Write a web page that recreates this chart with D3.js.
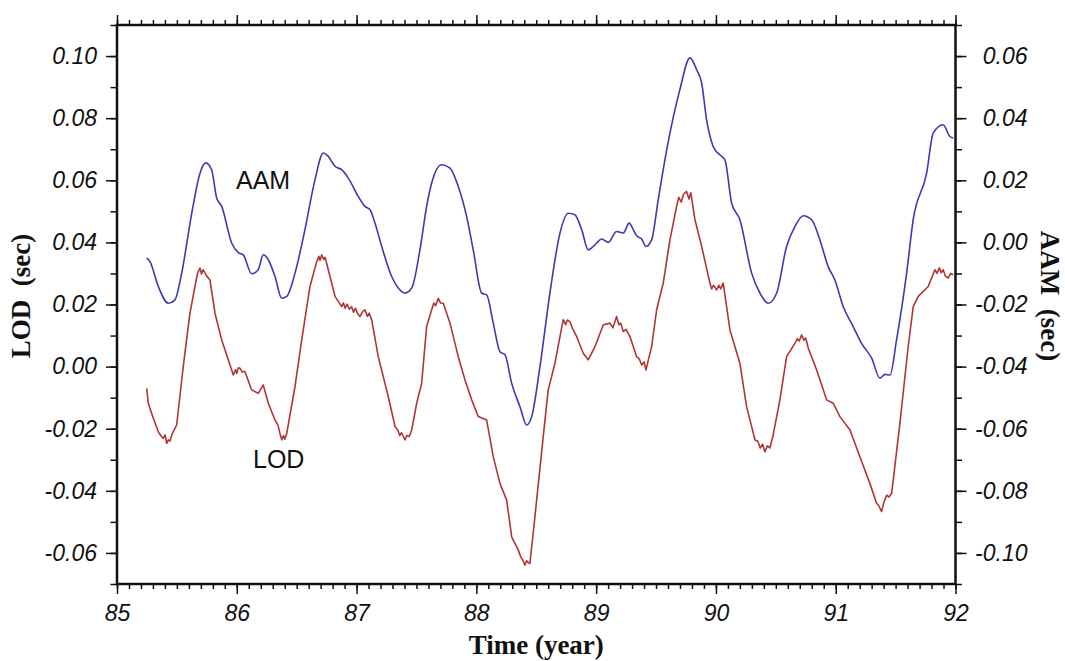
<!DOCTYPE html>
<html>
<head>
<meta charset="utf-8">
<script src="https://cdn.jsdelivr.net/npm/d3@7"></script>
<style>
  body { margin: 0; background: #fff; }
  svg { display: block; }
  .tick text { font-family: "Liberation Sans", Arial, sans-serif; font-style: italic; font-size: 23px; fill: #111; }
  .title { font-family: "Liberation Serif", "Times New Roman", serif; font-weight: bold; font-size: 27px; fill: #111; white-space: pre; }
  .label { font-family: "Liberation Sans", Arial, sans-serif; font-size: 25px; fill: #111; }
</style>
</head>
<body>
<svg id="chart" width="1065" height="661"></svg>
<script>
// AAM (right axis, sec)
const aamYears = [85.248, 85.275, 85.345, 85.428, 85.484, 85.540, 85.624, 85.693, 85.740, 85.790,
    85.832, 85.874, 85.957, 86.013, 86.054, 86.124, 86.179, 86.221, 86.263, 86.319,
    86.375, 86.417, 86.486, 86.569, 86.653, 86.722, 86.764, 86.820, 86.876, 86.931,
    87.014, 87.070, 87.112, 87.154, 87.210, 87.293, 87.348, 87.404, 87.460, 87.529,
    87.585, 87.627, 87.710, 87.780, 87.849, 87.919, 87.974, 88.044, 88.086, 88.141,
    88.197, 88.239, 88.295, 88.364, 88.420, 88.462, 88.531, 88.614, 88.698, 88.767,
    88.823, 88.879, 88.934, 88.990, 89.046, 89.101, 89.171, 89.226, 89.276, 89.310,
    89.338, 89.380, 89.416, 89.463, 89.518, 89.589, 89.699, 89.783, 89.839, 89.881,
    89.922, 89.977, 90.033, 90.075, 90.131, 90.200, 90.298, 90.367, 90.437, 90.507,
    90.590, 90.659, 90.729, 90.799, 90.868, 90.937, 90.993, 91.063, 91.146, 91.216,
    91.300, 91.369, 91.411, 91.453, 91.508, 91.592, 91.647, 91.759, 91.814, 91.897,
    91.953, 91.981];
const aamValues = [-0.0051, -0.0062, -0.0142, -0.0196, -0.0185, -0.0099, 0.0094, 0.0223, 0.0256, 0.0234,
    0.0143, 0.0116, -0.0002, -0.0033, -0.0040, -0.0101, -0.0088, -0.0040, -0.0056, -0.0110,
    -0.0180, -0.0174, -0.0099, 0.0041, 0.0202, 0.0288, 0.0277, 0.0245, 0.0234, 0.0207,
    0.0148, 0.0116, 0.0105, 0.0062, -0.0013, -0.0110, -0.0147, -0.0163, -0.0147, -0.0024,
    0.0116, 0.0191, 0.0250, 0.0239, 0.0180, 0.0083, -0.0024, -0.0163, -0.0169, -0.0260,
    -0.0352, -0.0362, -0.0454, -0.0529, -0.0588, -0.0561, -0.0400, -0.0163, 0.0030, 0.0094,
    0.0089, 0.0041, -0.0024, -0.0008, 0.0011, 0.0000, 0.0035, 0.0030, 0.0062, 0.0041,
    0.0021, 0.0011, -0.0013, 0.0008, 0.0137, 0.0298, 0.0492, 0.0594, 0.0556, 0.0513,
    0.0395, 0.0309, 0.0282, 0.0266, 0.0127, 0.0073, -0.0099, -0.0163, -0.0196, -0.0163,
    -0.0013, 0.0051, 0.0086, 0.0073, 0.0008, -0.0078, -0.0121, -0.0207, -0.0271, -0.0325,
    -0.0373, -0.0437, -0.0425, -0.0427, -0.0314, -0.0099, 0.0073, 0.0223, 0.0352, 0.0379,
    0.0341, 0.0336];

// LOD (left axis, sec) as [year, value]
const lodPoints = [
    [85.248, -0.0070], [85.261, -0.0118], [85.303, -0.0166], [85.345, -0.0210], [85.365, -0.0222],
    [85.386, -0.0231], [85.401, -0.0220], [85.415, -0.0247], [85.428, -0.0236], [85.442, -0.0240],
    [85.457, -0.0220], [85.475, -0.0205], [85.498, -0.0188], [85.553, 0.0000], [85.609, 0.0172],
    [85.651, 0.0258], [85.672, 0.0300], [85.693, 0.0317], [85.705, 0.0298], [85.718, 0.0312],
    [85.735, 0.0301], [85.752, 0.0290], [85.776, 0.0279], [85.818, 0.0172], [85.874, 0.0086],
    [85.929, 0.0022], [85.971, -0.0027], [85.990, -0.0010], [86.000, -0.0022], [86.013, -0.0004],
    [86.027, -0.0005], [86.045, -0.0017], [86.068, -0.0016], [86.124, -0.0075], [86.179, -0.0086],
    [86.221, -0.0059], [86.263, -0.0118], [86.319, -0.0172], [86.345, -0.0190], [86.360, -0.0215],
    [86.375, -0.0236], [86.390, -0.0222], [86.400, -0.0234], [86.417, -0.0215], [86.486, -0.0064],
    [86.542, 0.0086], [86.611, 0.0258], [86.667, 0.0338], [86.685, 0.0355], [86.695, 0.0342],
    [86.709, 0.0360], [86.725, 0.0345], [86.737, 0.0352], [86.750, 0.0333], [86.820, 0.0226],
    [86.876, 0.0193], [86.890, 0.0205], [86.905, 0.0188], [86.920, 0.0201], [86.940, 0.0185],
    [86.959, 0.0193], [86.975, 0.0175], [86.990, 0.0188], [87.010, 0.0170], [87.028, 0.0161],
    [87.050, 0.0176], [87.070, 0.0183], [87.090, 0.0162], [87.105, 0.0172], [87.126, 0.0151],
    [87.181, 0.0032], [87.265, -0.0097], [87.321, -0.0193], [87.345, -0.0205], [87.360, -0.0222],
    [87.375, -0.0213], [87.404, -0.0236], [87.420, -0.0222], [87.440, -0.0225], [87.460, -0.0204],
    [87.502, -0.0118], [87.543, -0.0054], [87.585, 0.0129], [87.627, 0.0183], [87.645, 0.0205],
    [87.660, 0.0196], [87.682, 0.0220], [87.700, 0.0205], [87.724, 0.0204], [87.780, 0.0140],
    [87.849, 0.0032], [87.905, -0.0043], [87.961, -0.0107], [88.016, -0.0161], [88.086, -0.0172],
    [88.141, -0.0290], [88.197, -0.0376], [88.253, -0.0430], [88.295, -0.0548], [88.350, -0.0591],
    [88.370, -0.0612], [88.390, -0.0625], [88.406, -0.0639], [88.420, -0.0625], [88.435, -0.0632],
    [88.447, -0.0634], [88.489, -0.0483], [88.558, -0.0226], [88.600, -0.0075], [88.656, 0.0011],
    [88.725, 0.0151], [88.745, 0.0135], [88.760, 0.0150], [88.781, 0.0145], [88.800, 0.0125],
    [88.837, 0.0097], [88.892, 0.0043], [88.934, 0.0022], [88.990, 0.0064], [89.059, 0.0134],
    [89.115, 0.0140], [89.140, 0.0125], [89.171, 0.0161], [89.190, 0.0135], [89.205, 0.0140],
    [89.226, 0.0113], [89.250, 0.0120], [89.282, 0.0097], [89.338, 0.0032], [89.360, 0.0025],
    [89.380, 0.0005], [89.400, 0.0015], [89.416, -0.0011], [89.435, 0.0020], [89.463, 0.0064],
    [89.505, 0.0183], [89.560, 0.0269], [89.616, 0.0408], [89.672, 0.0516], [89.690, 0.0545],
    [89.710, 0.0530], [89.730, 0.0555], [89.755, 0.0564], [89.775, 0.0540], [89.790, 0.0560],
    [89.825, 0.0473], [89.881, 0.0387], [89.950, 0.0269], [89.965, 0.0250], [89.980, 0.0262],
    [90.006, 0.0247], [90.025, 0.0262], [90.040, 0.0250], [90.061, 0.0269], [90.117, 0.0118],
    [90.200, 0.0011], [90.256, -0.0129], [90.326, -0.0236], [90.350, -0.0240], [90.370, -0.0262],
    [90.390, -0.0250], [90.409, -0.0274], [90.430, -0.0255], [90.450, -0.0262], [90.478, -0.0220],
    [90.534, -0.0107], [90.590, 0.0032], [90.659, 0.0075], [90.680, 0.0090], [90.695, 0.0082],
    [90.715, 0.0102], [90.735, 0.0085], [90.750, 0.0092], [90.771, 0.0059], [90.841, -0.0011],
    [90.924, -0.0107], [90.979, -0.0118], [91.035, -0.0161], [91.119, -0.0204], [91.202, -0.0290],
    [91.285, -0.0376], [91.341, -0.0440], [91.360, -0.0448], [91.383, -0.0467], [91.400, -0.0440],
    [91.425, -0.0414], [91.445, -0.0420], [91.467, -0.0408], [91.536, -0.0182], [91.605, 0.0064],
    [91.647, 0.0193], [91.689, 0.0226], [91.772, 0.0258], [91.828, 0.0312], [91.845, 0.0300],
    [91.865, 0.0318], [91.880, 0.0302], [91.897, 0.0312], [91.915, 0.0292], [91.939, 0.0285],
    [91.960, 0.0300], [91.981, 0.0296]
];

const yearTicks = [85, 86, 87, 88, 89, 90, 91, 92];
const lodTicks = [-0.06, -0.04, -0.02, 0.00, 0.02, 0.04, 0.06, 0.08, 0.10];
const aamTicks = [-0.10, -0.08, -0.06, -0.04, -0.02, 0.00, 0.02, 0.04, 0.06];

const svg = d3.select("#chart");
const plot = { left: 117, right: 955.5, top: 25, bottom: 584 };

const x = d3.scaleLinear().domain([85, 92]).range([plot.left, plot.right]);
const yLod = d3.scaleLinear().domain([-0.07, 0.11]).range([plot.bottom, plot.top]);
const yAam = d3.scaleLinear().domain([-0.11, 0.07]).range([plot.bottom, plot.top]);

const fmt = (d) => (Math.round(d * 100) / 100).toFixed(2).replace("-0.00", "0.00");
const minorYears = d3.range(850, 921).map((d) => d / 10);
const minorLod = d3.range(-7, 12).map((d) => d / 100);
const minorAam = d3.range(-11, 8).map((d) => d / 100);

function drawAxis(axis, tx, ty) {
    const g = svg.append("g").attr("transform", `translate(${tx},${ty})`).call(axis);
    g.select(".domain").remove();
    g.selectAll(".tick line").attr("stroke", "#111").attr("stroke-width", 1.5);
    return g;
}

// minor ticks
drawAxis(d3.axisBottom(x).tickValues(minorYears).tickSize(5).tickFormat(""), 0, plot.bottom);
drawAxis(d3.axisTop(x).tickValues(minorYears).tickSize(5).tickFormat(""), 0, plot.top);
drawAxis(d3.axisLeft(yLod).tickValues(minorLod).tickSize(6.5).tickFormat(""), plot.left, 0);
drawAxis(d3.axisRight(yAam).tickValues(minorAam).tickSize(6.5).tickFormat(""), plot.right, 0);

// major ticks + labels
drawAxis(d3.axisBottom(x).tickValues(yearTicks).tickSize(10).tickPadding(11).tickFormat(d3.format("d")), 0, plot.bottom);
drawAxis(d3.axisTop(x).tickValues(yearTicks).tickSize(10).tickFormat(""), 0, plot.top);
drawAxis(d3.axisLeft(yLod).tickValues(lodTicks).tickSize(11).tickPadding(9).tickFormat(fmt), plot.left, 0);
drawAxis(d3.axisRight(yAam).tickValues(aamTicks).tickSize(11).tickFormat(fmt), plot.right, 0)
    .selectAll(".tick text").attr("text-anchor", "end").attr("x", 72);

// frame
svg.append("rect")
    .attr("x", plot.left).attr("y", plot.top)
    .attr("width", plot.right - plot.left).attr("height", plot.bottom - plot.top)
    .attr("fill", "none").attr("stroke", "#111").attr("stroke-width", 2.5);

// series
const aamLine = d3.line().x((d, i) => x(aamYears[i])).y((d) => yAam(d)).curve(d3.curveMonotoneX);
const lodLine = d3.line().x((d) => x(d[0])).y((d) => yLod(d[1]));

svg.append("path").datum(aamValues)
    .attr("d", aamLine).attr("fill", "none")
    .attr("stroke", "#3a3ab2").attr("stroke-width", 1.6);

svg.append("path").datum(lodPoints)
    .attr("d", lodLine).attr("fill", "none")
    .attr("stroke", "#b03535").attr("stroke-width", 1.6).attr("stroke-linejoin", "round");

// series labels
svg.append("text").attr("class", "label").attr("x", 236).attr("y", 189).text("AAM");
svg.append("text").attr("class", "label").attr("x", 253).attr("y", 468).text("LOD");

// axis titles
svg.append("text").attr("class", "title")
    .attr("text-anchor", "middle")
    .attr("x", (plot.left + plot.right) / 2).attr("y", 654)
    .text("Time (year)");
svg.append("text").attr("class", "title")
    .attr("text-anchor", "middle")
    .attr("transform", "translate(30,296) rotate(-90)")
    .text("LOD  (sec)");
svg.append("text").attr("class", "title")
    .attr("text-anchor", "middle")
    .attr("transform", "translate(1041,296) rotate(90)")
    .text("AAM  (sec)");
</script>
</body>
</html>
